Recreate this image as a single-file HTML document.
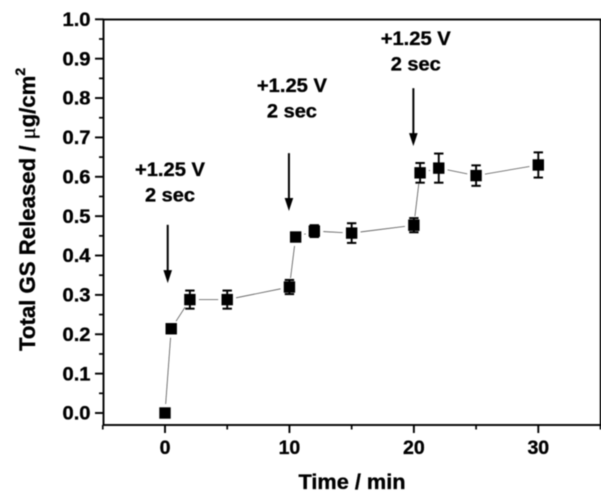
<!DOCTYPE html>
<html>
<head>
<meta charset="utf-8">
<style>
html,body{margin:0;padding:0;background:#fff;}
svg{display:block;}
text{font-family:"Liberation Sans",sans-serif;font-weight:bold;fill:#000;stroke:#000;stroke-width:0.35;}
</style>
</head>
<body>
<svg id="chart" width="612" height="502" viewBox="0 0 612 502" xmlns="http://www.w3.org/2000/svg">
<defs><filter id="soft" x="0" y="0" width="100%" height="100%"><feGaussianBlur stdDeviation="0.4"/></filter></defs>
<rect x="0" y="0" width="612" height="502" fill="#fff"/>
<g id="root" filter="url(#soft)"></g>
</svg>
<script>
var times = [0, 0.5, 2, 5, 10, 10.5, 12, 15, 20, 20.5, 22, 25, 30];
var released = [0, 0.214, 0.288, 0.288, 0.32, 0.447, 0.462, 0.457, 0.477, 0.61, 0.622, 0.603, 0.63];
var errors = [0, 0, 0.023, 0.023, 0.018, 0.005, 0.015, 0.025, 0.018, 0.025, 0.037, 0.026, 0.032];
var xMajorTicks = [0, 10, 20, 30];
var xMinorTicks = [-5, 5, 15, 25, 35];
var yMajorTicks = ["0.0", "0.1", "0.2", "0.3", "0.4", "0.5", "0.6", "0.7", "0.8", "0.9", "1.0"];
var yMinorTicks = [0.05, 0.15, 0.25, 0.35, 0.45, 0.55, 0.65, 0.75, 0.85, 0.95];
var pulseTimes = [0.25, 10, 20];
var pulseTopValues = [0.478, 0.66, 0.825];
var pulseBottomValues = [0.33, 0.513, 0.678];
var pulseLabelValues = [0.602, 0.815, 0.935];
var pulseLabelTimes = [0.4, 10.2, 20.15];

var NS = 'http://www.w3.org/2000/svg';
var root = document.getElementById('root');
var L = 103.5, R = 600.7, T = 19.5, B = 425;
function sx(v){ return 165 + (v - 0) * (538.3 - 165) / 30; }
function sy(v){ return 413 - v * (413 - 19.3); }
function make(tag, attrs){
  var el = document.createElementNS(NS, tag);
  for (var k in attrs) el.setAttribute(k, attrs[k]);
  return el;
}
function line(x1, y1, x2, y2, w, c){
  return make('line', {x1:x1, y1:y1, x2:x2, y2:y2, stroke:c || '#000', 'stroke-width':w});
}
function label(str, x, y, size, anchor, width){
  var attrs = {x:x, y:y, 'font-size':size, 'text-anchor':anchor};
  if (width) { attrs.textLength = width; attrs.lengthAdjust = 'spacingAndGlyphs'; }
  var el = make('text', attrs);
  el.textContent = str;
  return el;
}

var frame = make('rect', {x:L, y:T, width:R - L, height:B - T, fill:'none', stroke:'#000', 'stroke-width':1.9});


root.appendChild(frame);

yMajorTicks.forEach(function(t){
  var y = sy(parseFloat(t));
  var tick = line(L - 8.5, y, L, y, 1.9);
  
  
  root.appendChild(tick);
  var txt = label(t, 90.5, y + 6.7, 19, 'end', 28);
  
  
  root.appendChild(txt);
});
yMinorTicks.forEach(function(t){
  var tick = line(L - 4.5, sy(t), L, sy(t), 1.7);
  
  
  root.appendChild(tick);
});
xMajorTicks.forEach(function(t){
  var x = sx(t);
  var tick = line(x, B, x, B + 8, 1.9);
  
  
  root.appendChild(tick);
  var txt = label(String(t), x, 454, 19.5, 'middle');
  
  
  root.appendChild(txt);
});
xMinorTicks.forEach(function(t){
  var tick = line(sx(t), B, sx(t), B + 4.5, 1.7);
  
  
  root.appendChild(tick);
});

var xTitle = label('Time / min', 352, 489, 21, 'middle', 107);


root.appendChild(xTitle);

var yTitle = make('text', {transform:'translate(35,351) rotate(-90)', x:0, y:0, 'font-size':22.2});


var p1 = make('tspan', {}); p1.textContent = 'Total GS Released / ';
var p2 = make('tspan', {style:'font-family:"Liberation Serif",serif;font-weight:normal'}); p2.textContent = 'μ';
var p3 = make('tspan', {}); p3.textContent = 'g/cm';
var p4 = make('tspan', {dy:-10, 'font-size':14}); p4.textContent = '2';
yTitle.appendChild(p1); yTitle.appendChild(p2); yTitle.appendChild(p3); yTitle.appendChild(p4);
root.appendChild(yTitle);

for (var i = 0; i < times.length - 1; i++) {
  var x1 = sx(times[i]), y1 = sy(released[i]), x2 = sx(times[i + 1]), y2 = sy(released[i + 1]);
  var len = Math.sqrt((x2 - x1) * (x2 - x1) + (y2 - y1) * (y2 - y1));
  var gap = 9;
  if (len > gap * 2) {
    var ux = (x2 - x1) / len, uy = (y2 - y1) / len;
    var seg = line(x1 + ux * gap, y1 + uy * gap, x2 - ux * gap, y2 - uy * gap, 0.8, '#555');
    
    
    root.appendChild(seg);
  }
}

times.forEach(function(t, i){
  var x = sx(t), y = sy(released[i]), e = errors[i];
  if (e > 0) {
    var yt = sy(released[i] + e), yb = sy(released[i] - e);
    var stem = line(x, yt, x, yb, 1.9);
    
    
    root.appendChild(stem);
    var capTop = line(x - 4.7, yt, x + 4.7, yt, 2);
    
    
    root.appendChild(capTop);
    var capBottom = line(x - 4.7, yb, x + 4.7, yb, 2);
    
    
    root.appendChild(capBottom);
  }
  var m = make('rect', {x:x - 5.7, y:y - 5.7, width:11.4, height:11.4, fill:'#000'});
  
  
  root.appendChild(m);
});

pulseTimes.forEach(function(t, i){
  var x = sx(t) + (i === 0 ? -0.4 : -0.5);
  var y1 = sy(pulseTopValues[i]), y2 = sy(pulseBottomValues[i]);
  var shaft = line(x, y1, x, y2 - 8, 2);
  
  
  root.appendChild(shaft);
  var head = make('polygon', {points:(x - 4.3) + ',' + (y2 - 13) + ' ' + (x + 4.3) + ',' + (y2 - 13) + ' ' + x + ',' + y2, fill:'#000'});
  
  
  root.appendChild(head);
  var cx = sx(pulseLabelTimes[i]);
  var base = sy(pulseLabelValues[i]);
  var a = label('+1.25 V', cx, base, 19, 'middle', 70);
  
  
  root.appendChild(a);
  var b = label('2 sec', cx, base + 25.5, 19, 'middle', 50);
  
  
  root.appendChild(b);
});
</script>
</body>
</html>
